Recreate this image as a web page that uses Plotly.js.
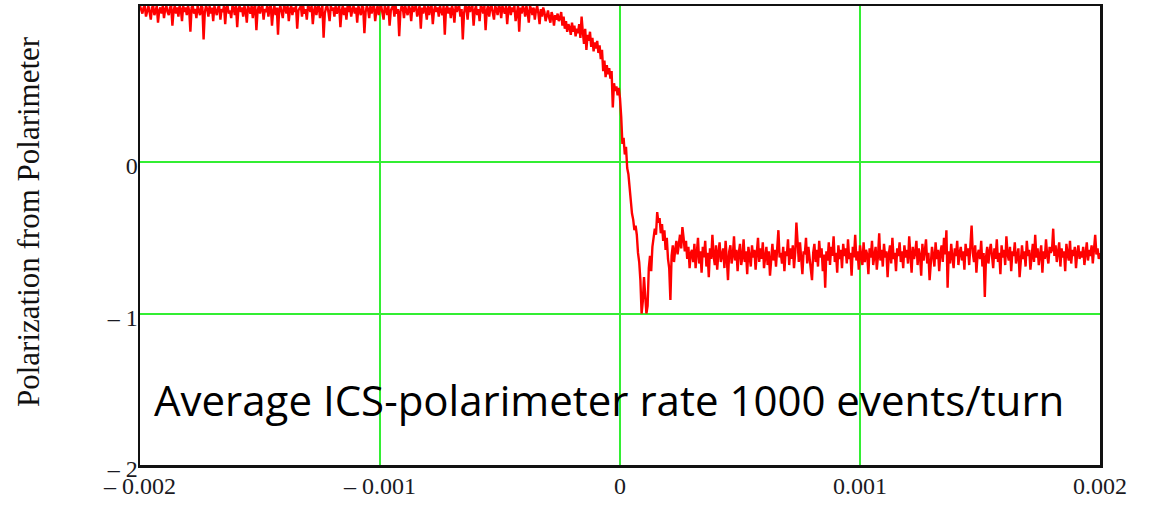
<!DOCTYPE html>
<html>
<head>
<meta charset="utf-8">
<script src="https://cdn.plot.ly/plotly-3.0.1.min.js"></script>
<style>
  html, body { margin: 0; padding: 0; background: #ffffff; }
  #chart { width: 1153px; height: 505px; }
</style>
</head>
<body>
<div id="chart"></div>
<script>
// x axis: time offset, samples evenly spaced from xStart to xEnd
const xStart = -0.002;
const xEnd = 0.002;

// Polarization values (801 samples, left to right)
// before the flip: close to +1 (top of the frame) with downward noise spikes
const polarizationBefore = [
  1.03,1.01,0.98,1.02,1.03,0.96,1.00,1.03,0.99,0.94,1.02,1.03,0.97,1.01,1.03,0.92,1.00,1.02,0.98,1.03,0.95,1.01,1.03,0.99,0.97,
  1.02,1.03,0.90,1.00,1.03,0.98,1.02,0.96,1.03,1.01,0.93,1.03,0.99,1.02,0.97,1.03,1.00,0.86,1.02,1.03,0.98,1.01,0.95,1.03,1.00,
  0.97,1.03,1.02,0.81,0.99,1.03,1.01,0.96,1.03,0.98,1.02,0.93,1.03,1.00,0.97,1.02,1.03,0.94,1.01,0.99,1.03,0.91,1.02,1.03,0.98,
  1.00,0.95,1.03,1.02,0.97,1.03,0.89,1.01,1.03,0.99,1.02,0.96,1.03,1.00,0.92,1.03,1.01,0.98,1.03,0.95,1.02,1.03,0.87,1.00,1.03,
  0.98,1.02,1.03,0.94,1.01,0.99,1.03,0.96,1.02,1.03,0.90,1.00,1.03,0.97,1.02,0.84,1.01,1.03,0.99,0.95,1.03,1.02,0.98,1.03,0.93,
  1.01,1.03,0.97,1.02,0.99,1.03,0.88,1.00,1.02,1.03,0.96,1.03,0.98,1.01,0.94,1.03,1.02,0.99,1.03,0.91,1.00,1.03,0.97,1.02,1.03,
  0.95,1.01,1.03,0.82,0.98,1.02,1.03,0.99,0.93,1.03,1.00,1.02,0.96,1.03,0.98,1.01,1.03,0.89,1.00,1.03,0.97,1.02,0.94,1.03,0.99,
  1.03,0.96,1.01,1.03,0.98,1.02,0.92,1.03,1.00,0.97,1.03,1.02,0.85,0.99,1.03,1.01,0.95,1.03,0.98,1.02,1.03,0.93,1.00,1.03,0.97,
  1.02,1.03,0.99,0.94,1.03,1.01,0.97,1.03,0.90,1.00,1.02,1.03,0.96,1.03,0.98,1.01,0.83,0.99,1.03,1.02,0.95,1.03,1.00,0.97,1.03,
  1.01,0.93,1.03,0.99,1.02,1.03,0.96,1.00,1.03,0.88,1.02,0.98,1.03,1.01,0.94,1.03,0.97,1.02,1.03,0.91,1.00,1.03,0.99,1.02,0.96,
  1.03,1.00,0.97,1.03,0.84,1.01,1.03,0.98,1.02,0.95,1.03,1.00,0.92,1.03,0.99,1.02,1.03,0.96,1.01,0.81,0.98,1.03,1.02,0.94,1.03,
  0.99,1.02,1.03,0.90,1.00,1.03,0.97,1.01,0.93,1.03,1.02,0.98,1.03,0.87,1.00,1.03,0.96,1.02,1.03,0.99,0.94,1.03,1.01,0.97,1.03,
  1.02,0.95,1.03,1.00,0.98,1.03,0.91,1.01,1.03,0.97,1.02,0.99,1.03,0.93,1.00,1.03,0.86,1.02,0.98,1.03,1.01,0.96,1.03,0.99,0.92,
  1.03,1.01,0.97,1.02,0.94,1.00,1.03,0.98,0.91,1.01,0.96,1.02,0.99,0.93,0.98,1.00,0.95,0.92,0.99,0.96,0.90,0.97,0.94,0.98,0.93
];
// the flip: gradual decline, steep drop through zero, dip to -1 and ringing
const polarizationFlip = [
  0.95,0.99,0.90,0.96,0.88,0.93,0.86,0.91,0.89,0.84,0.92,0.86,0.90,0.83,0.88,0.85,0.91,0.82,0.96,0.86,
  0.78,0.88,0.74,0.84,0.80,0.86,0.76,0.82,0.73,0.79,0.75,0.80,0.72,0.77,0.68,0.74,0.60,0.67,0.56,0.64,
  0.58,0.62,0.55,0.60,0.36,0.52,0.47,0.50,0.44,0.49,0.42,0.30,0.12,0.16,0.05,0.10,-0.04,-0.08,-0.18,-0.28,
  -0.34,-0.38,-0.45,-0.42,-0.48,-0.60,-0.66,-0.78,-1.00,-0.92,-0.76,-0.88,-1.00,-0.95,-0.70,-0.62,-0.72,-0.56,-0.50,-0.44,
  -0.48,-0.33,-0.40,-0.37,-0.47,-0.41,-0.52,-0.45,-0.58,-0.50,-0.64,-0.70,-0.91,-0.62,-0.55,-0.66,-0.58,-0.52,-0.61,-0.54,
  -0.48,-0.57,-0.43,-0.50,-0.59,-0.52,-0.64,-0.56,-0.70,-0.60
];
// after the flip: steady level near -0.6 with noise
const polarizationAfter = [
  -0.58,-0.66,-0.54,-0.70,-0.61,-0.50,-0.67,-0.59,-0.73,-0.56,-0.63,-0.52,-0.69,-0.60,-0.76,-0.57,-0.64,-0.48,-0.62,-0.68,-0.55,-0.71,-0.60,-0.53,-0.66,
  -0.61,-0.57,-0.70,-0.52,-0.64,-0.78,-0.59,-0.55,-0.67,-0.62,-0.49,-0.65,-0.58,-0.72,-0.60,-0.54,-0.68,-0.63,-0.51,-0.66,-0.59,-0.74,-0.56,-0.62,-0.69,
  -0.55,-0.63,-0.58,-0.71,-0.60,-0.50,-0.66,-0.57,-0.64,-0.53,-0.70,-0.61,-0.56,-0.68,-0.59,-0.75,-0.62,-0.54,-0.65,-0.58,-0.69,-0.52,-0.45,-0.63,-0.60,
  -0.67,-0.56,-0.72,-0.59,-0.62,-0.51,-0.68,-0.57,-0.64,-0.55,-0.70,-0.60,-0.40,-0.58,-0.66,-0.53,-0.63,-0.74,-0.59,-0.61,-0.50,-0.67,-0.56,-0.64,-0.71,
  -0.78,-0.60,-0.54,-0.66,-0.58,-0.69,-0.52,-0.63,-0.57,-0.72,-0.61,-0.83,-0.59,-0.65,-0.53,-0.68,-0.56,-0.62,-0.49,-0.66,-0.60,-0.73,-0.55,-0.64,-0.58,
  -0.70,-0.54,-0.62,-0.57,-0.67,-0.51,-0.64,-0.60,-0.75,-0.56,-0.63,-0.48,-0.65,-0.59,-0.71,-0.55,-0.62,-0.68,-0.53,-0.66,-0.58,-0.61,-0.74,-0.57,-0.63,
  -0.52,-0.68,-0.60,-0.56,-0.71,-0.62,-0.47,-0.65,-0.58,-0.69,-0.54,-0.63,-0.59,-0.76,-0.61,-0.55,-0.67,-0.50,-0.64,-0.60,-0.72,-0.57,-0.62,-0.53,-0.66,
  -0.59,-0.70,-0.55,-0.63,-0.58,-0.67,-0.49,-0.61,-0.73,-0.56,-0.64,-0.60,-0.52,-0.68,-0.57,-0.62,-0.75,-0.54,-0.65,-0.59,-0.51,-0.67,-0.60,-0.78,-0.63,
  -0.56,-0.62,-0.69,-0.53,-0.64,-0.58,-0.72,-0.60,-0.55,-0.66,-0.50,-0.61,-0.45,-0.83,-0.59,-0.67,-0.54,-0.63,-0.70,-0.57,-0.62,-0.52,-0.68,-0.60,-0.56,
  -0.65,-0.59,-0.71,-0.54,-0.62,-0.57,-0.68,-0.50,-0.42,-0.60,-0.66,-0.55,-0.73,-0.61,-0.58,-0.64,-0.52,-0.69,-0.60,-0.89,-0.63,-0.56,-0.67,-0.59,-0.54,
  -0.62,-0.70,-0.57,-0.64,-0.51,-0.66,-0.60,-0.74,-0.55,-0.63,-0.58,-0.68,-0.49,-0.61,-0.65,-0.56,-0.72,-0.59,-0.62,-0.53,-0.67,-0.60,-0.57,-0.76,-0.63,
  -0.55,-0.64,-0.59,-0.69,-0.52,-0.62,-0.58,-0.71,-0.60,-0.54,-0.66,-0.48,-0.63,-0.57,-0.68,-0.61,-0.55,-0.73,-0.59,-0.64,-0.51,-0.62,-0.67,-0.56,-0.60,
  -0.58,-0.44,-0.62,-0.55,-0.66,-0.60,-0.53,-0.69,-0.57,-0.63,-0.59,-0.72,-0.54,-0.61,-0.65,-0.52,-0.67,-0.58,-0.62,-0.56,-0.70,-0.60,-0.55,-0.64,-0.59,
  -0.63,-0.56,-0.68,-0.60,-0.53,-0.65,-0.58,-0.62,-0.55,-0.67,-0.59,-0.48,-0.61,-0.57,-0.64,-0.60
];

// Tick labels
const xTickVals = [-0.002, -0.001, 0, 0.001, 0.002];
const xTickText = ['\u2013 0.002', '\u2013 0.001', '0', '0.001', '0.002'];
const yTickVals = [-2, -1, 0];
const yTickText = ['\u2013 2', '\u2013 1', '0'];

const yTitle = 'Polarization from Polarimeter';
const noteText = 'Average ICS-polarimeter rate 1000 events/turn';

const polarization = polarizationBefore.concat(polarizationFlip, polarizationAfter);
const n = polarization.length;
const xs = polarization.map((_, i) => xStart + (xEnd - xStart) * i / (n - 1));

const serif = 'Liberation Serif, Times New Roman, serif';
const gridGreen = '#33ee33';

const trace = {
  x: xs,
  y: polarization,
  type: 'scatter',
  mode: 'lines',
  line: { color: '#ff0000', width: 2.4 },
  hoverinfo: 'x+y'
};

const layout = {
  width: 1153,
  height: 505,
  margin: { l: 140, r: 53, t: 6, b: 40 },
  paper_bgcolor: '#ffffff',
  plot_bgcolor: '#ffffff',
  showlegend: false,
  font: { family: serif, color: '#111111', size: 24 },
  xaxis: {
    range: [xStart, xEnd],
    tickvals: xTickVals,
    ticktext: xTickText,
    ticks: '',
    ticklen: 0,
    showgrid: true,
    gridcolor: gridGreen,
    gridwidth: 2,
    zeroline: false,
    showline: true,
    mirror: true,
    linecolor: '#111111',
    linewidth: 2.5,
    tickfont: { family: serif, size: 24, color: '#1a1a22' },
    ticklabelstandoff: -2
  },
  yaxis: {
    range: [-2, 1.03],
    tickvals: yTickVals,
    ticktext: yTickText,
    ticks: '',
    ticklen: 0,
    showgrid: true,
    gridcolor: gridGreen,
    gridwidth: 2,
    zeroline: false,
    showline: true,
    mirror: true,
    linecolor: '#111111',
    linewidth: 2.5,
    tickfont: { family: serif, size: 24, color: '#1a1a22' },
    ticklabelshift: 4,
    ticklabelstandoff: -5
  },
  annotations: [
    {
      text: yTitle,
      textangle: -90,
      xref: 'paper', yref: 'y',
      x: (28 - 140) / 960, y: -0.396,
      xanchor: 'center', yanchor: 'middle',
      showarrow: false,
      font: { family: serif, size: 31, color: '#111111' }
    },
    {
      text: noteText,
      xref: 'paper', yref: 'y',
      x: 0.0125, y: -1.565,
      xanchor: 'left', yanchor: 'middle',
      showarrow: false,
      font: { family: 'Open Sans, Noto Sans, sans-serif', size: 42, color: '#000000' }
    }
  ]
};

Plotly.newPlot('chart', [trace], layout, { staticPlot: true, displayModeBar: false });
</script>
</body>
</html>
